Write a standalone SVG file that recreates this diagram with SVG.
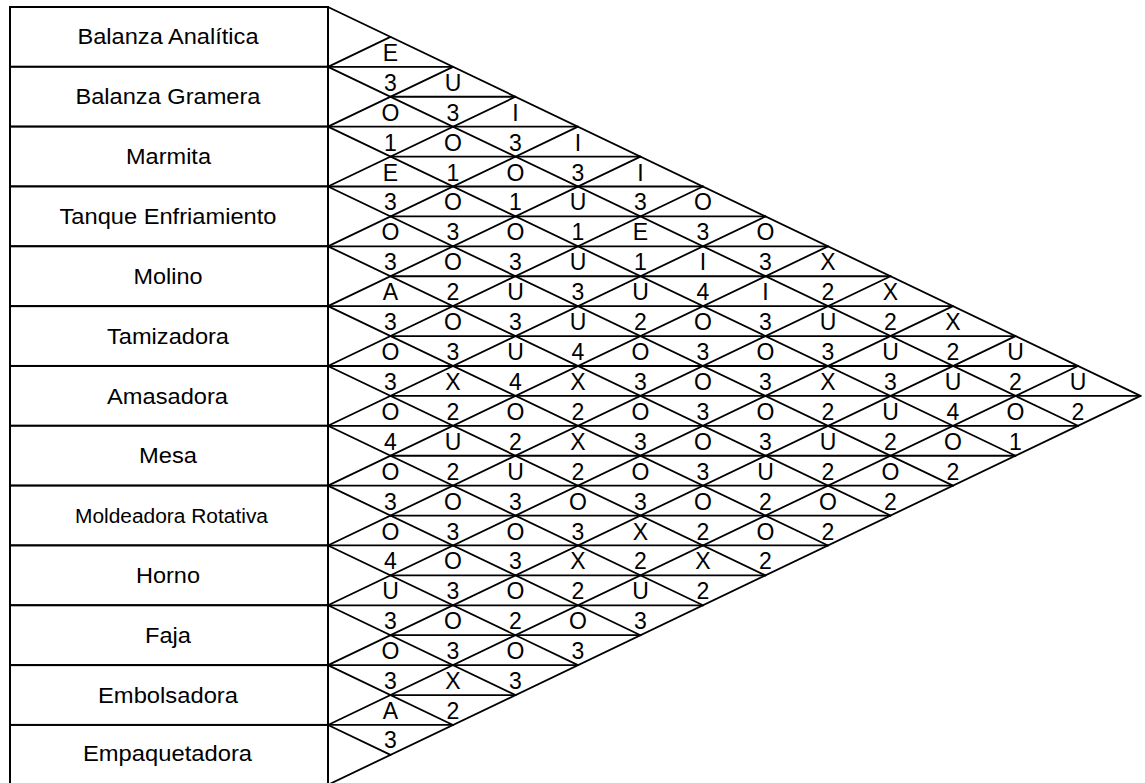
<svg xmlns="http://www.w3.org/2000/svg" width="1145" height="783" viewBox="0 0 1145 783">
<style>
.row{fill:#fff;stroke:#000;stroke-width:2}
.lbl{font-family:"Liberation Sans",Arial,sans-serif;font-size:22px;fill:#000;text-anchor:middle}
.grid line{stroke:#000;stroke-width:1.8;stroke-linecap:round}
.cell{font-family:"Liberation Sans",Arial,sans-serif;font-size:23px;fill:#000;text-anchor:middle}
</style>
<rect width="1145" height="783" fill="#fff"/>
<g id="nodes">
<g id="n1"><rect class="row" x="10" y="7" width="318" height="59.83"/><text class="lbl" x="168" y="44.4" textLength="181" lengthAdjust="spacingAndGlyphs">Balanza Analítica</text></g>
<g id="n2"><rect class="row" x="10" y="66.83" width="318" height="59.83"/><text class="lbl" x="168" y="104.2" textLength="185" lengthAdjust="spacingAndGlyphs">Balanza Gramera</text></g>
<g id="n3"><rect class="row" x="10" y="126.66" width="318" height="59.83"/><text class="lbl" x="168.5" y="164.1" textLength="85" lengthAdjust="spacingAndGlyphs">Marmita</text></g>
<g id="n4"><rect class="row" x="10" y="186.49" width="318" height="59.83"/><text class="lbl" x="168" y="223.9" textLength="217" lengthAdjust="spacingAndGlyphs">Tanque Enfriamiento</text></g>
<g id="n5"><rect class="row" x="10" y="246.32" width="318" height="59.83"/><text class="lbl" x="168" y="283.7" textLength="69" lengthAdjust="spacingAndGlyphs">Molino</text></g>
<g id="n6"><rect class="row" x="10" y="306.15" width="318" height="59.83"/><text class="lbl" x="168" y="343.6" textLength="122" lengthAdjust="spacingAndGlyphs">Tamizadora</text></g>
<g id="n7"><rect class="row" x="10" y="365.98" width="318" height="59.83"/><text class="lbl" x="167.5" y="403.5" textLength="121" lengthAdjust="spacingAndGlyphs">Amasadora</text></g>
<g id="n8"><rect class="row" x="10" y="425.81" width="318" height="59.83"/><text class="lbl" x="168" y="463.2" textLength="58" lengthAdjust="spacingAndGlyphs">Mesa</text></g>
<g id="n9"><rect class="row" x="10" y="485.64" width="318" height="59.83"/><text class="lbl" x="171.5" y="523.1" style="font-size:20px" textLength="193" lengthAdjust="spacingAndGlyphs">Moldeadora Rotativa</text></g>
<g id="n10"><rect class="row" x="10" y="545.47" width="318" height="59.83"/><text class="lbl" x="168" y="582.9" textLength="64" lengthAdjust="spacingAndGlyphs">Horno</text></g>
<g id="n11"><rect class="row" x="10" y="605.3" width="318" height="59.83"/><text class="lbl" x="168" y="642.7" textLength="46" lengthAdjust="spacingAndGlyphs">Faja</text></g>
<g id="n12"><rect class="row" x="10" y="665.13" width="318" height="59.83"/><text class="lbl" x="168" y="702.5" textLength="140" lengthAdjust="spacingAndGlyphs">Embolsadora</text></g>
<g id="n13"><rect class="row" x="10" y="724.96" width="318" height="70"/><text class="lbl" x="167.5" y="761" textLength="169" lengthAdjust="spacingAndGlyphs">Empaquetadora</text></g>
</g>
<g id="connectors" class="grid">
<line x1="328" y1="7" x2="1140.5" y2="395.9"/>
<line x1="328" y1="66.83" x2="1078" y2="425.81"/>
<line x1="328" y1="126.66" x2="1015.5" y2="455.73"/>
<line x1="328" y1="186.49" x2="953" y2="485.64"/>
<line x1="328" y1="246.32" x2="890.5" y2="515.56"/>
<line x1="328" y1="306.15" x2="828" y2="545.47"/>
<line x1="328" y1="365.98" x2="765.5" y2="575.39"/>
<line x1="328" y1="425.81" x2="703" y2="605.3"/>
<line x1="328" y1="485.64" x2="640.5" y2="635.22"/>
<line x1="328" y1="545.47" x2="578" y2="665.13"/>
<line x1="328" y1="605.3" x2="515.5" y2="695.05"/>
<line x1="328" y1="665.13" x2="453" y2="724.96"/>
<line x1="328" y1="724.96" x2="390.5" y2="754.88"/>
<line x1="328" y1="66.83" x2="390.5" y2="36.92"/>
<line x1="328" y1="126.66" x2="453" y2="66.83"/>
<line x1="328" y1="186.49" x2="515.5" y2="96.75"/>
<line x1="328" y1="246.32" x2="578" y2="126.66"/>
<line x1="328" y1="306.15" x2="640.5" y2="156.58"/>
<line x1="328" y1="365.98" x2="703" y2="186.49"/>
<line x1="328" y1="425.81" x2="765.5" y2="216.41"/>
<line x1="328" y1="485.64" x2="828" y2="246.32"/>
<line x1="328" y1="545.47" x2="890.5" y2="276.24"/>
<line x1="328" y1="605.3" x2="953" y2="306.15"/>
<line x1="328" y1="665.13" x2="1015.5" y2="336.07"/>
<line x1="328" y1="724.96" x2="1078" y2="365.98"/>
<line x1="328" y1="784.79" x2="1140.5" y2="395.9"/>
<line x1="328" y1="66.83" x2="453" y2="66.83"/>
<line x1="390.5" y1="96.75" x2="515.5" y2="96.75"/>
<line x1="328" y1="126.66" x2="578" y2="126.66"/>
<line x1="390.5" y1="156.58" x2="640.5" y2="156.58"/>
<line x1="328" y1="186.49" x2="703" y2="186.49"/>
<line x1="390.5" y1="216.41" x2="765.5" y2="216.41"/>
<line x1="328" y1="246.32" x2="828" y2="246.32"/>
<line x1="390.5" y1="276.24" x2="890.5" y2="276.24"/>
<line x1="328" y1="306.15" x2="953" y2="306.15"/>
<line x1="390.5" y1="336.07" x2="1015.5" y2="336.07"/>
<line x1="328" y1="365.98" x2="1078" y2="365.98"/>
<line x1="390.5" y1="395.9" x2="1140.5" y2="395.9"/>
<line x1="328" y1="425.81" x2="1078" y2="425.81"/>
<line x1="390.5" y1="455.73" x2="1015.5" y2="455.73"/>
<line x1="328" y1="485.64" x2="953" y2="485.64"/>
<line x1="390.5" y1="515.56" x2="890.5" y2="515.56"/>
<line x1="328" y1="545.47" x2="828" y2="545.47"/>
<line x1="390.5" y1="575.39" x2="765.5" y2="575.39"/>
<line x1="328" y1="605.3" x2="703" y2="605.3"/>
<line x1="390.5" y1="635.22" x2="640.5" y2="635.22"/>
<line x1="328" y1="665.13" x2="578" y2="665.13"/>
<line x1="390.5" y1="695.05" x2="515.5" y2="695.05"/>
<line x1="328" y1="724.96" x2="453" y2="724.96"/>
</g>
<g id="ratings" class="cell">
<text x="390.5" y="60.8">E</text>
<text x="390.5" y="90.7">3</text><text x="453" y="90.7">U</text>
<text x="390.5" y="120.7">O</text><text x="453" y="120.7">3</text><text x="515.5" y="120.7">I</text>
<text x="390.5" y="150.6">1</text><text x="453" y="150.6">O</text><text x="515.5" y="150.6">3</text><text x="578" y="150.6">I</text>
<text x="390.5" y="180.5">E</text><text x="453" y="180.5">1</text><text x="515.5" y="180.5">O</text><text x="578" y="180.5">3</text><text x="640.5" y="180.5">I</text>
<text x="390.5" y="210.4">3</text><text x="453" y="210.4">O</text><text x="515.5" y="210.4">1</text><text x="578" y="210.4">U</text><text x="640.5" y="210.4">3</text><text x="703" y="210.4">O</text>
<text x="390.5" y="240.3">O</text><text x="453" y="240.3">3</text><text x="515.5" y="240.3">O</text><text x="578" y="240.3">1</text><text x="640.5" y="240.3">E</text><text x="703" y="240.3">3</text><text x="765.5" y="240.3">O</text>
<text x="390.5" y="270.2">3</text><text x="453" y="270.2">O</text><text x="515.5" y="270.2">3</text><text x="578" y="270.2">U</text><text x="640.5" y="270.2">1</text><text x="703" y="270.2">I</text><text x="765.5" y="270.2">3</text><text x="828" y="270.2">X</text>
<text x="390.5" y="300.2">A</text><text x="453" y="300.2">2</text><text x="515.5" y="300.2">U</text><text x="578" y="300.2">3</text><text x="640.5" y="300.2">U</text><text x="703" y="300.2">4</text><text x="765.5" y="300.2">I</text><text x="828" y="300.2">2</text><text x="890.5" y="300.2">X</text>
<text x="390.5" y="330.1">3</text><text x="453" y="330.1">O</text><text x="515.5" y="330.1">3</text><text x="578" y="330.1">U</text><text x="640.5" y="330.1">2</text><text x="703" y="330.1">O</text><text x="765.5" y="330.1">3</text><text x="828" y="330.1">U</text><text x="890.5" y="330.1">2</text><text x="953" y="330.1">X</text>
<text x="390.5" y="360">O</text><text x="453" y="360">3</text><text x="515.5" y="360">U</text><text x="578" y="360">4</text><text x="640.5" y="360">O</text><text x="703" y="360">3</text><text x="765.5" y="360">O</text><text x="828" y="360">3</text><text x="890.5" y="360">U</text><text x="953" y="360">2</text><text x="1015.5" y="360">U</text>
<text x="390.5" y="389.9">3</text><text x="453" y="389.9">X</text><text x="515.5" y="389.9">4</text><text x="578" y="389.9">X</text><text x="640.5" y="389.9">3</text><text x="703" y="389.9">O</text><text x="765.5" y="389.9">3</text><text x="828" y="389.9">X</text><text x="890.5" y="389.9">3</text><text x="953" y="389.9">U</text><text x="1015.5" y="389.9">2</text><text x="1078" y="389.9">U</text>
<text x="390.5" y="419.8">O</text><text x="453" y="419.8">2</text><text x="515.5" y="419.8">O</text><text x="578" y="419.8">2</text><text x="640.5" y="419.8">O</text><text x="703" y="419.8">3</text><text x="765.5" y="419.8">O</text><text x="828" y="419.8">2</text><text x="890.5" y="419.8">U</text><text x="953" y="419.8">4</text><text x="1015.5" y="419.8">O</text><text x="1078" y="419.8">2</text>
<text x="390.5" y="449.7">4</text><text x="453" y="449.7">U</text><text x="515.5" y="449.7">2</text><text x="578" y="449.7">X</text><text x="640.5" y="449.7">3</text><text x="703" y="449.7">O</text><text x="765.5" y="449.7">3</text><text x="828" y="449.7">U</text><text x="890.5" y="449.7">2</text><text x="953" y="449.7">O</text><text x="1015.5" y="449.7">1</text>
<text x="390.5" y="479.6">O</text><text x="453" y="479.6">2</text><text x="515.5" y="479.6">U</text><text x="578" y="479.6">2</text><text x="640.5" y="479.6">O</text><text x="703" y="479.6">3</text><text x="765.5" y="479.6">U</text><text x="828" y="479.6">2</text><text x="890.5" y="479.6">O</text><text x="953" y="479.6">2</text>
<text x="390.5" y="509.6">3</text><text x="453" y="509.6">O</text><text x="515.5" y="509.6">3</text><text x="578" y="509.6">O</text><text x="640.5" y="509.6">3</text><text x="703" y="509.6">O</text><text x="765.5" y="509.6">2</text><text x="828" y="509.6">O</text><text x="890.5" y="509.6">2</text>
<text x="390.5" y="539.5">O</text><text x="453" y="539.5">3</text><text x="515.5" y="539.5">O</text><text x="578" y="539.5">3</text><text x="640.5" y="539.5">X</text><text x="703" y="539.5">2</text><text x="765.5" y="539.5">O</text><text x="828" y="539.5">2</text>
<text x="390.5" y="569.4">4</text><text x="453" y="569.4">O</text><text x="515.5" y="569.4">3</text><text x="578" y="569.4">X</text><text x="640.5" y="569.4">2</text><text x="703" y="569.4">X</text><text x="765.5" y="569.4">2</text>
<text x="390.5" y="599.3">U</text><text x="453" y="599.3">3</text><text x="515.5" y="599.3">O</text><text x="578" y="599.3">2</text><text x="640.5" y="599.3">U</text><text x="703" y="599.3">2</text>
<text x="390.5" y="629.2">3</text><text x="453" y="629.2">O</text><text x="515.5" y="629.2">2</text><text x="578" y="629.2">O</text><text x="640.5" y="629.2">3</text>
<text x="390.5" y="659.1">O</text><text x="453" y="659.1">3</text><text x="515.5" y="659.1">O</text><text x="578" y="659.1">3</text>
<text x="390.5" y="689">3</text><text x="453" y="689">X</text><text x="515.5" y="689">3</text>
<text x="390.5" y="719">A</text><text x="453" y="719">2</text>
<text x="390.5" y="747.5">3</text>
</g>
</svg>
